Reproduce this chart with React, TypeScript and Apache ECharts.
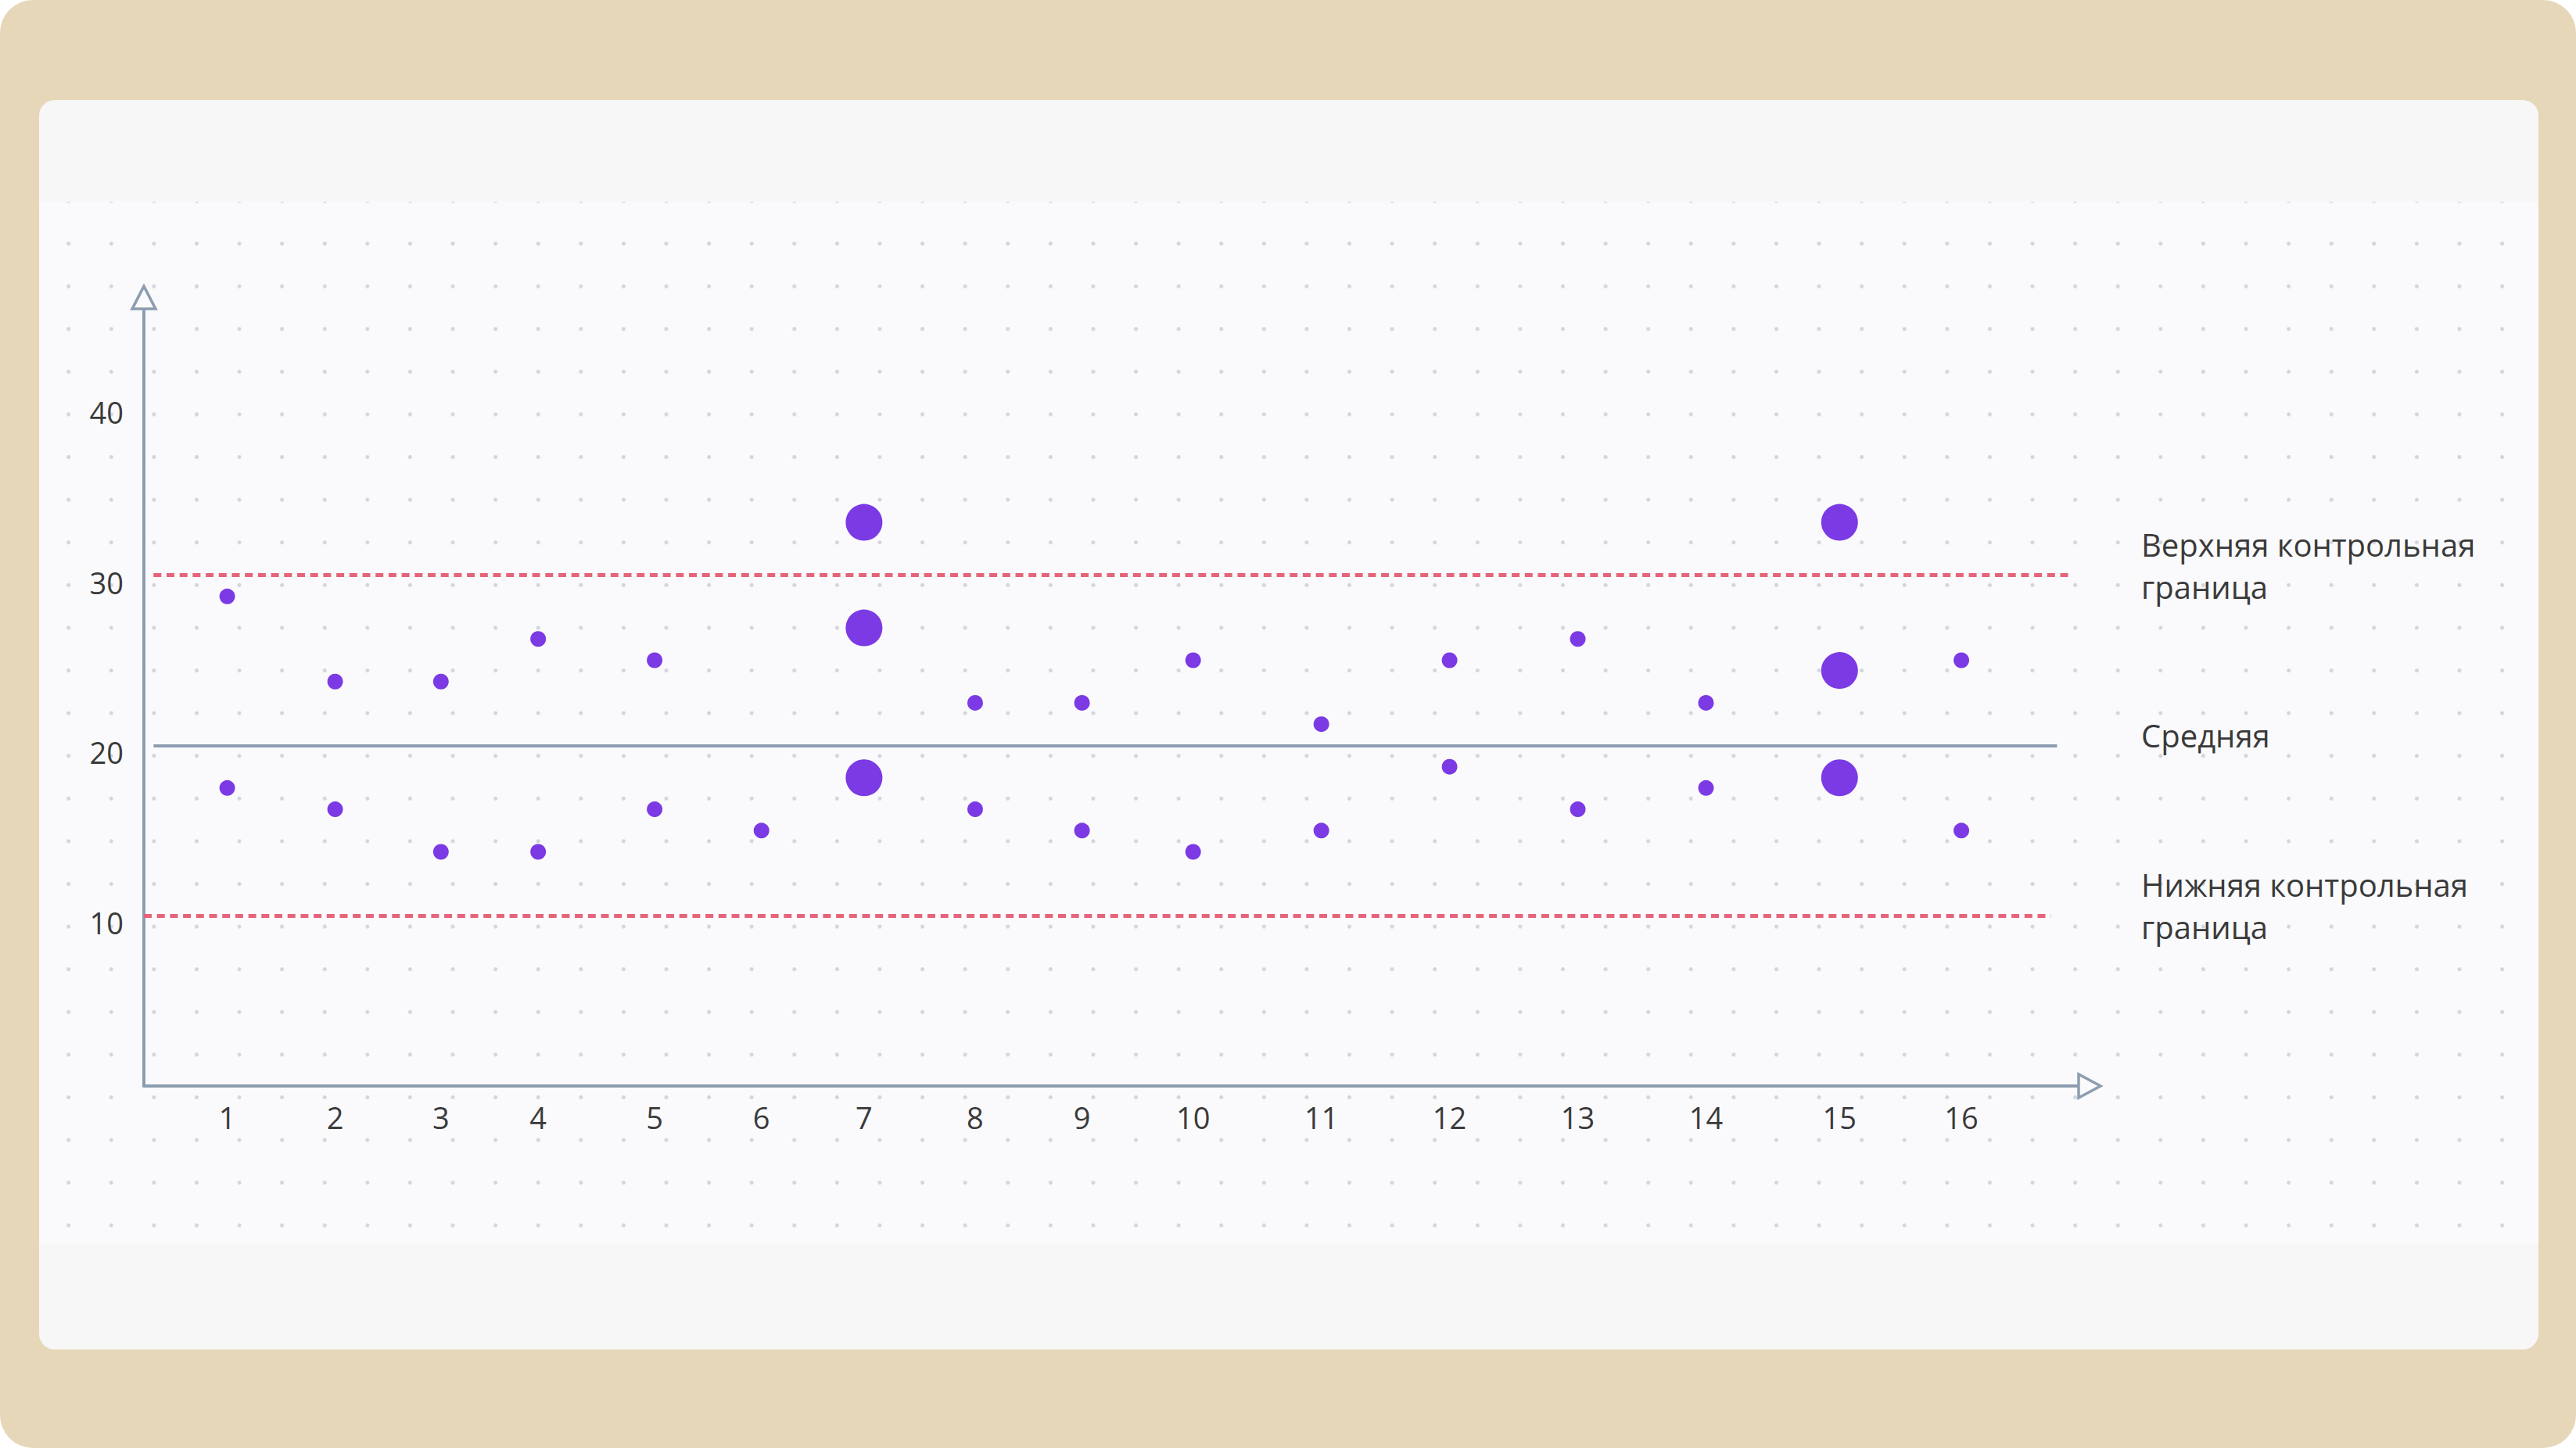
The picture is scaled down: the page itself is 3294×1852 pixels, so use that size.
import React, { useEffect, useRef } from "react";
import * as echarts from "echarts";

// ---- data ----
const sampleLabels = ["1", "2", "3", "4", "5", "6", "7", "8", "9", "10", "11", "12", "13", "14", "15", "16"];
// horizontal position of every sample on the (non-uniform) horizontal scale, in axis units
const samplePositions = [1.0, 2.01, 3.0, 3.91, 5.0, 6.0, 6.96, 8.0, 9.0, 10.04, 11.24, 12.44, 13.64, 14.84, 16.09, 17.23];
// measured values of every sample
const sampleValues = [
  [28.75, 17.5],
  [23.75, 16.25],
  [23.75, 13.75],
  [26.25, 13.75],
  [25, 16.25],
  [15],
  [33.1, 26.9, 18.1],
  [22.5, 16.25],
  [22.5, 15],
  [25, 13.75],
  [21.25, 15],
  [25, 18.75],
  [26.25, 16.25],
  [22.5, 17.5],
  [33.1, 24.4, 18.1],
  [25, 15],
];
const flaggedSamples = ["7", "15"];
const yTickValues = [10, 20, 30, 40];
const upperControlLimit = 30;
const meanValue = 20;
const lowerControlLimit = 10;
const upperLabel = "Верхняя контрольная\nграница";
const meanLabel = "Средняя";
const lowerLabel = "Нижняя контрольная\nграница";

const FONT = "'Open Sans', 'Noto Sans', sans-serif";
const AXIS = "#8D9DB0";
const TEXT = "#3A3A3A";
const PURPLE = "#7B3AE4";
const RED = "#E5647A";
const PLOT_BG = "#FAFAFC";

const X_MIN = 0.22;
const X_MAX = 18.43;
const Y_MIN = 0;
const Y_MAX = 46.3;

export default function App() {
  const ref = useRef<HTMLDivElement | null>(null);

  useEffect(() => {
    if (!ref.current) return;
    const chart = echarts.init(ref.current, null, { renderer: "svg" });

    const normal: number[][] = [];
    const flagged: number[][] = [];
    sampleLabels.forEach((lab, i) => {
      sampleValues[i].forEach((v) => {
        (flaggedSamples.includes(lab) ? flagged : normal).push([samplePositions[i], v]);
      });
    });

    const labelFor = (v: number) => {
      const i = samplePositions.findIndex((p) => Math.abs(p - v) < 1e-6);
      return i >= 0 ? sampleLabels[i] : "";
    };

    const option: any = {
      animation: false,
      backgroundColor: "transparent",
      textStyle: { fontFamily: FONT },
      grid: {
        left: 184,
        top: 380.6,
        width: 2488,
        height: 1008.4,
        containLabel: false,
        outerBoundsMode: "none",
      },
      xAxis: {
        type: "value",
        min: X_MIN,
        max: X_MAX,
        splitLine: { show: false },
        axisTick: { show: false },
        axisLine: {
          show: true,
          onZero: false,
          lineStyle: { color: AXIS, width: 4 },
        },
        axisLabel: {
          customValues: samplePositions,
          formatter: (v: number) => labelFor(v),
          fontSize: 38,
          color: TEXT,
          fontFamily: FONT,
          margin: 40,
          verticalAlign: "middle",
        },
      },
      yAxis: {
        type: "value",
        min: Y_MIN,
        max: Y_MAX,
        splitLine: { show: false },
        axisTick: { show: false },
        axisLine: {
          show: true,
          onZero: false,
          lineStyle: { color: AXIS, width: 4 },
        },
        axisLabel: {
          customValues: yTickValues,
          fontSize: 38,
          color: TEXT,
          fontFamily: FONT,
          margin: 26,
          verticalAlign: "top",
          lineHeight: 18,
        },
      },
      series: [
        {
          type: "scatter",
          name: "Измерения",
          data: normal,
          symbol: "circle",
          symbolSize: 20,
          itemStyle: { color: PURPLE, opacity: 1 },
          clip: false,
          z: 5,
          markLine: {
            silent: true,
            symbol: ["none", "none"],
            animation: false,
            label: { show: false },
            data: [
              [
                { coord: [0.31, upperControlLimit], lineStyle: { color: RED, width: 5, type: [10, 6.7] } },
                { coord: [18.265, upperControlLimit] },
              ],
              [
                { coord: [0.31, meanValue], lineStyle: { color: AXIS, width: 4, type: "solid" } },
                { coord: [18.126, meanValue] },
              ],
              [
                { coord: [X_MIN, lowerControlLimit], lineStyle: { color: RED, width: 5, type: [10, 6.7] } },
                { coord: [18.068, lowerControlLimit] },
              ],
            ],
          },
        },
        {
          type: "scatter",
          name: "Выход за границы",
          data: flagged,
          symbol: "circle",
          symbolSize: 47,
          itemStyle: { color: PURPLE, opacity: 1 },
          clip: false,
          z: 6,
        },
      ],
    };

    chart.setOption(option);

    // annotations placed through the chart's own scales
    const px = (x: number, y: number) => chart.convertToPixel({ gridIndex: 0 }, [x, y]) as number[];
    const yTop = px(X_MIN, Y_MAX);
    const xEnd = px(X_MAX, Y_MIN);
    const textX = 2738;
    const textStyle = (text: string) => ({
      text,
      fontSize: 40,
      lineHeight: 54,
      fill: TEXT,
      fontFamily: FONT,
      align: "left",
      verticalAlign: "middle",
    });

    chart.setOption({
      graphic: [
        {
          type: "polygon",
          z: 20,
          shape: {
            points: [
              [yTop[0], yTop[1] - 14.5],
              [yTop[0] + 15, yTop[1] + 14.5],
              [yTop[0] - 15, yTop[1] + 14.5],
            ],
          },
          style: { fill: PLOT_BG, stroke: AXIS, lineWidth: 3.5, lineJoin: "miter" },
        },
        {
          type: "polygon",
          z: 20,
          shape: {
            points: [
              [xEnd[0] + 14, xEnd[1]],
              [xEnd[0] - 14, xEnd[1] - 15],
              [xEnd[0] - 14, xEnd[1] + 15],
            ],
          },
          style: { fill: PLOT_BG, stroke: AXIS, lineWidth: 3.5, lineJoin: "miter" },
        },
        { type: "text", z: 20, x: textX, y: px(X_MIN, upperControlLimit)[1] - 12.5, style: textStyle(upperLabel) },
        { type: "text", z: 20, x: textX, y: px(X_MIN, meanValue)[1] - 12.5, style: textStyle(meanLabel) },
        { type: "text", z: 20, x: textX, y: px(X_MIN, lowerControlLimit)[1] - 12.5, style: textStyle(lowerLabel) },
      ],
    });

    return () => chart.dispose();
  }, []);

  return (
    <div style={{ position: "fixed", left: 0, top: 0, width: 3294, height: 1852, background: "#ffffff", overflow: "hidden" }}>
      <div style={{ position: "absolute", left: 0, top: 0, width: 3294, height: 1852, background: "#E6D7B9", borderRadius: 42 }} />
      <div
        style={{
          position: "absolute",
          left: 50,
          top: 128,
          width: 3196,
          height: 1598,
          background: "#F7F7F7",
          borderRadius: 20,
          overflow: "hidden",
        }}
      >
        <div
          style={{
            position: "absolute",
            left: 0,
            top: 130,
            width: 3196,
            height: 1333,
            backgroundColor: PLOT_BG,
            backgroundImage: "radial-gradient(circle, #D3D5DC 0px, #D3D5DC 2px, rgba(211,213,220,0) 3px)",
            backgroundSize: "54.6px 54.6px",
            backgroundPosition: "10.4px -28.3px",
          }}
        />
      </div>
      <div ref={ref} style={{ position: "absolute", left: 0, top: 0, width: 3294, height: 1852 }} />
    </div>
  );
}
